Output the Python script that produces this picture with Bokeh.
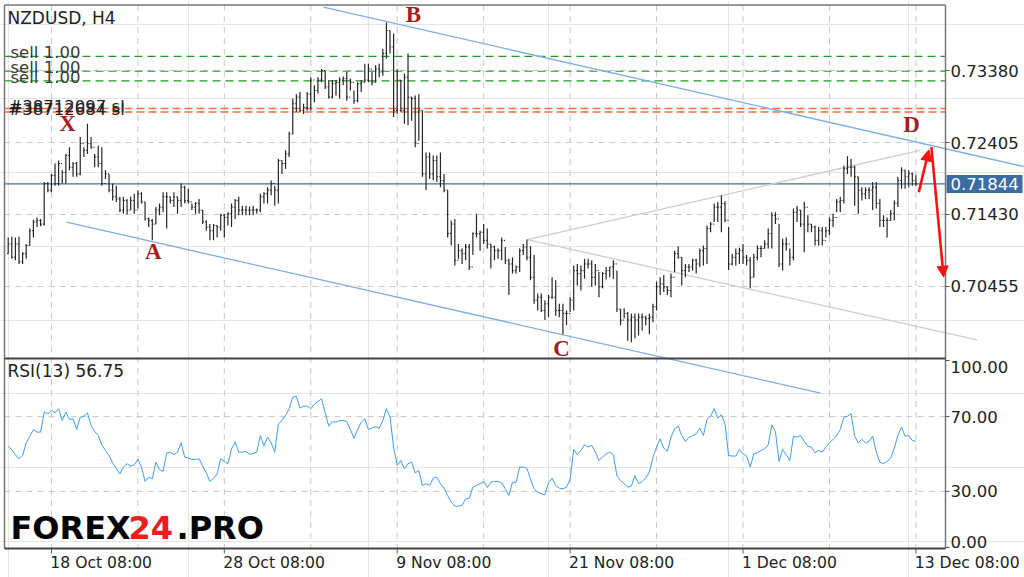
from bokeh.plotting import figure
from bokeh.models import Range1d, Arrow, NormalHead
from bokeh.core.properties import value
from bokeh.embed import file_html
from bokeh.resources import INLINE

# ---------------- data (NZDUSD H4) ----------------
highs = [
    .7112, .7113, .7112, .7113, .7092, .7103, .7124, .7136, .7139, .7137,
    .7187, .7187, .7198, .7212, .7216, .7203, .7225, .7234, .7214, .7214,
    .7248, .7234, .7266, .7248, .7225, .7236, .7234, .7203, .7198, .7185,
    .7182, .7167, .7167, .7164, .7167, .7171, .7176, .7173, .7160, .7139,
    .7137, .7153, .7158, .7173, .7173, .7167, .7173, .7167, .7185, .7182,
    .7178, .7158, .7160, .7164, .7149, .7135, .7130, .7130, .7128, .7144,
    .7144, .7146, .7158, .7164, .7167, .7155, .7155, .7154, .7155, .7151,
    .7171, .7173, .7180, .7189, .7182, .7218, .7216, .7230, .7255, .7300,
    .7306, .7309, .7293, .7309, .7329, .7318, .7329, .7340, .7338, .7325,
    .7325, .7325, .7329, .7330, .7336, .7327, .7311, .7322, .7325, .7347,
    .7347, .7336, .7345, .7347, .7367, .7403, .7392, .7388, .7340, .7325,
    .7334, .7361, .7302, .7304, .7306, .7284, .7227, .7227, .7223, .7223,
    .7227, .7198, .7176, .7135, .7137, .7103, .7097, .7103, .7103, .7119,
    .7144, .7121, .7130, .7124, .7103, .7101, .7097, .7112, .7099, .7083,
    .7085, .7074, .7097, .7103, .7109, .7100, .7088, .7036, .7036, .7027,
    .7034, .7058, .7054, .7022, .7022, .7013, .7031, .7074, .7076, .7074,
    .7083, .7083, .7081, .7076, .7065, .7065, .7072, .7072, .7081, .7067,
    .7015, .7016, .7011, .7009, .7009, .7009, .7009, .7006, .7009, .7022,
    .7052, .7058, .7061, .7045, .7063, .7094, .7100, .7085, .7076, .7076,
    .7083, .7083, .7097, .7101, .7128, .7133, .7158, .7160, .7169, .7161,
    .7126, .7090, .7097, .7098, .7103, .7088, .7085, .7090, .7101, .7101,
    .7108, .7124, .7146, .7146, .7130, .7110, .7112, .7097, .7151, .7155,
    .7149, .7160, .7142, .7130, .7128, .7126, .7126, .7126, .7139, .7144,
    .7164, .7167, .7209, .7222, .7218, .7209, .7194, .7180, .7180, .7180,
    .7187, .7187, .7164, .7142, .7139, .7149, .7162, .7194, .7207, .7203,
    .7203, .7200, .7196,
]
lows = [
    .7090, .7083, .7081, .7076, .7076, .7083, .7101, .7112, .7126, .7127,
    .7128, .7173, .7173, .7182, .7182, .7185, .7185, .7203, .7194, .7194,
    .7196, .7221, .7225, .7232, .7207, .7207, .7182, .7191, .7173, .7162,
    .7160, .7146, .7144, .7143, .7149, .7144, .7151, .7158, .7135, .7126,
    .7108, .7130, .7142, .7146, .7124, .7158, .7153, .7144, .7153, .7158,
    .7158, .7149, .7144, .7144, .7130, .7121, .7108, .7108, .7112, .7121,
    .7112, .7128, .7126, .7137, .7142, .7142, .7142, .7142, .7142, .7144,
    .7146, .7158, .7158, .7169, .7155, .7158, .7198, .7205, .7221, .7252,
    .7282, .7282, .7279, .7284, .7284, .7295, .7307, .7322, .7313, .7300,
    .7300, .7304, .7300, .7318, .7297, .7311, .7293, .7295, .7309, .7322,
    .7322, .7318, .7322, .7329, .7331, .7354, .7361, .7275, .7279, .7282,
    .7266, .7264, .7270, .7234, .7243, .7194, .7176, .7191, .7189, .7187,
    .7180, .7173, .7112, .7101, .7074, .7083, .7076, .7081, .7068, .7088,
    .7112, .7094, .7103, .7097, .7070, .7081, .7083, .7081, .7076, .7034,
    .7063, .7063, .7065, .7088, .7081, .7054, .7022, .7013, .7011, .7000,
    .7004, .7029, .7006, .7004, .6981, .6993, .7011, .7013, .7047, .7040,
    .7056, .7070, .7045, .7047, .7031, .7043, .7055, .7058, .7056, .7011,
    .6993, .7002, .6972, .6970, .6975, .6979, .6986, .6993, .6981, .6997,
    .7013, .7034, .7038, .7034, .7031, .7065, .7083, .7047, .7058, .7065,
    .7067, .7063, .7072, .7074, .7076, .7119, .7133, .7133, .7119, .7133,
    .7068, .7074, .7074, .7076, .7076, .7074, .7043, .7058, .7081, .7085,
    .7097, .7097, .7097, .7130, .7072, .7067, .7094, .7074, .7081, .7133,
    .7126, .7092, .7119, .7119, .7101, .7101, .7101, .7112, .7115, .7126,
    .7146, .7146, .7158, .7198, .7194, .7155, .7144, .7162, .7164, .7164,
    .7149, .7151, .7126, .7126, .7112, .7135, .7135, .7153, .7178, .7178,
    .7180, .7182, .7182,
]
closes = [
    .7103, .7085, .7103, .7079, .7090, .7101, .7121, .7133, .7135, .7130,
    .7185, .7176, .7196, .7185, .7212, .7200, .7223, .7207, .7212, .7198,
    .7239, .7230, .7239, .7234, .7221, .7212, .7185, .7198, .7176, .7167,
    .7164, .7149, .7162, .7149, .7162, .7149, .7171, .7160, .7137, .7135,
    .7130, .7149, .7153, .7167, .7167, .7162, .7167, .7162, .7180, .7162,
    .7160, .7153, .7158, .7149, .7133, .7126, .7121, .7128, .7126, .7142,
    .7139, .7144, .7153, .7162, .7149, .7149, .7149, .7149, .7149, .7149,
    .7167, .7171, .7176, .7185, .7176, .7216, .7212, .7225, .7252, .7293,
    .7302, .7284, .7288, .7306, .7325, .7311, .7325, .7338, .7316, .7302,
    .7320, .7322, .7325, .7327, .7302, .7322, .7297, .7320, .7322, .7325,
    .7340, .7322, .7340, .7336, .7361, .7392, .7370, .7284, .7325, .7284,
    .7329, .7302, .7300, .7239, .7284, .7198, .7221, .7198, .7216, .7194,
    .7189, .7176, .7117, .7130, .7081, .7094, .7090, .7099, .7072, .7117,
    .7117, .7119, .7108, .7103, .7099, .7094, .7094, .7108, .7081, .7076,
    .7067, .7072, .7094, .7099, .7085, .7058, .7027, .7031, .7013, .7022,
    .7031, .7031, .7013, .7013, .7009, .7009, .7027, .7067, .7063, .7067,
    .7076, .7076, .7058, .7067, .7045, .7063, .7067, .7072, .7076, .7015,
    .7000, .7009, .7000, .7004, .7000, .7004, .7004, .7002, .7004, .7018,
    .7045, .7049, .7045, .7040, .7058, .7090, .7085, .7067, .7072, .7072,
    .7081, .7076, .7094, .7097, .7124, .7130, .7153, .7153, .7158, .7135,
    .7076, .7085, .7090, .7094, .7085, .7081, .7058, .7085, .7097, .7097,
    .7103, .7117, .7142, .7137, .7076, .7103, .7103, .7085, .7146, .7149,
    .7130, .7153, .7130, .7126, .7108, .7121, .7108, .7121, .7135, .7139,
    .7160, .7162, .7205, .7207, .7207, .7194, .7176, .7171, .7176, .7176,
    .7180, .7158, .7135, .7135, .7135, .7144, .7158, .7189, .7203, .7194,
    .7198, .7189, .71844,
]
rsi = [
    54.2, 52.2, 49.6, 47.4, 49.2, 56.0, 59.5, 63.1, 61.7, 61.7,
    72.4, 71.5, 73.3, 72.0, 74.2, 67.9, 72.4, 68.5, 68.8, 63.1,
    69.7, 70.2, 72.0, 65.3, 62.0, 59.9, 54.9, 51.9, 49.2, 45.3,
    42.1, 39.4, 43.0, 44.8, 43.5, 44.2, 47.1, 43.0, 35.3, 37.6,
    36.7, 45.6, 41.7, 40.7, 50.6, 51.0, 49.6, 51.0, 56.0, 48.3,
    47.8, 47.1, 47.1, 47.4, 43.5, 39.9, 35.3, 37.1, 39.4, 47.4,
    46.0, 44.8, 52.8, 56.3, 51.0, 51.0, 51.4, 49.9, 50.3, 51.0,
    59.9, 54.2, 59.0, 56.0, 51.0, 66.1, 67.9, 70.6, 74.2, 80.4,
    80.9, 74.5, 75.6, 75.6, 74.2, 76.7, 78.1, 79.5, 72.0, 64.9,
    67.4, 67.0, 67.8, 67.9, 67.4, 63.1, 58.5, 63.1, 67.0, 68.8,
    63.1, 63.8, 64.5, 63.8, 67.9, 74.2, 69.7, 53.7, 43.9, 46.5,
    42.1, 44.8, 45.6, 39.9, 41.2, 33.2, 34.1, 33.2, 37.1, 37.6,
    34.1, 31.7, 27.8, 24.3, 22.1, 22.1, 22.5, 26.0, 26.4, 32.3,
    33.2, 34.1, 35.3, 32.1, 34.9, 35.3, 35.3, 34.6, 31.4, 27.8,
    34.9, 34.9, 43.0, 43.0, 42.4, 36.7, 31.4, 29.6, 28.7, 28.2,
    34.6, 37.1, 33.2, 31.7, 31.4, 32.3, 36.4, 52.4, 49.6, 51.9,
    54.9, 53.7, 54.6, 51.0, 46.5, 48.3, 50.1, 51.0, 49.6, 38.2,
    35.8, 34.1, 32.3, 32.8, 38.5, 34.1, 35.3, 37.1, 40.3, 48.3,
    53.7, 58.1, 53.1, 51.4, 59.0, 63.5, 64.9, 59.9, 56.7, 59.0,
    59.9, 60.8, 63.8, 59.9, 68.5, 70.2, 74.2, 69.2, 71.0, 66.1,
    49.2, 48.9, 48.9, 52.4, 50.1, 48.9, 43.0, 50.1, 50.6, 51.9,
    52.8, 54.9, 65.6, 62.0, 46.0, 52.4, 49.6, 46.5, 59.5, 59.0,
    59.9, 56.7, 54.2, 53.7, 50.6, 51.9, 51.0, 53.7, 56.0, 57.8,
    59.9, 63.1, 69.7, 70.2, 71.5, 59.5, 56.0, 57.8, 56.0, 56.7,
    59.5, 51.0, 45.6, 44.8, 46.0, 47.8, 53.1, 59.9, 64.4, 59.5,
    59.9, 57.2, 56.75,
]
bars = list(range(len(highs)))
opens = [lows[0]] + closes[:-1]          # FX: each H4 bar opens at the previous close

last_price = 0.71844
last_rsi = 56.75
price_ticks = [0.73380, 0.72405, 0.71430, 0.70455]
rsi_ticks = [100, 70, 30, 0]
grid_bars = [12, 36, 60, 84, 108, 132, 156, 180, 204, 228, 252]
time_label_bars = [12, 60, 108, 156, 204, 252]
time_labels = ["18 Oct 08:00", "28 Oct 08:00", "9 Nov 08:00",
               "21 Nov 08:00", "1 Dec 08:00", "13 Dec 08:00"]

sell_levels = [0.7357, 0.7337, 0.7324]
sell_labels = ["sell 1.00", "sell 1.00", "sell 1.00"]
sl_levels = [0.72865, 0.72818]
sl_labels = ["#38712097 sl", "#38712684 sl"]

pattern_labels = ["X", "A", "B", "C", "D"]
pattern_bars = [16.5, 40.3, 112.5, 153.6, 250.8]
pattern_prices = [0.72669, 0.70929, 0.74138, 0.69615, 0.72649]

upper_channel_bars = [87.5, 281.9]
upper_channel_prices = [0.74237, 0.72080]
lower_channel_bars = [16.2, 225.5]
lower_channel_prices = [0.71326, 0.69010]
wedge_bars = [253.1, 144.1, 269.0]
wedge_prices = [0.72297, 0.71091, 0.69733]
arrow_up = [(252.8, 0.71732), (255.6, 0.72306)]
arrow_down = [(256.3, 0.72341), (259.7, 0.70581)]

# ---------------- layout: pixel -> data helpers ----------------
W, H = 1024, 577


def bx(px):          # horizontal pixel position -> bar index
    return (px - 7.7) / 3.602


def py(px):          # vertical pixel position -> price
    return 0.72405 - (px - 142.0) / 7384.6


def ry(px):          # vertical pixel position -> RSI value
    return (547.0 - px) / 1.87


p = figure(width=W, height=H, output_backend="svg", toolbar_location=None,
           x_range=Range1d(bx(0), bx(W)), y_range=Range1d(py(H), py(0)),
           x_axis_location=None, y_axis_location=None, min_border=0)
p.extra_y_ranges = {"rsi": Range1d(ry(H), ry(0))}
p.outline_line_color = None
p.background_fill_color = "white"
p.border_fill_color = "white"

FONT = value("DejaVu Sans")
FS = "16.5px"
AX_X = bx(945)
LEFT_X = bx(4)
TOP_P = py(4.5)
MAIN_BOTTOM_P = py(358)
FRAME_BOTTOM_P = py(548)

# grids
p.segment(x0=grid_bars, y0=[TOP_P] * len(grid_bars), x1=grid_bars,
          y1=[FRAME_BOTTOM_P] * len(grid_bars), line_color="#c8c8c8",
          line_dash="6 5", line_width=1)
p.segment(x0=[LEFT_X] * 4, y0=price_ticks, x1=[AX_X] * 4, y1=price_ticks,
          line_color="#c8c8c8", line_dash="6 5", line_width=1)
p.segment(x0=[LEFT_X] * 2, y0=[70, 30], x1=[AX_X] * 2, y1=[70, 30],
          line_color="#c8c8c8", line_dash="6 5", line_width=1, y_range_name="rsi")

# order levels
p.segment(x0=[LEFT_X] * 3, y0=sell_levels, x1=[AX_X] * 3, y1=sell_levels,
          line_color="#1f9a1f", line_dash="8 5", line_width=1.2)
p.segment(x0=[LEFT_X] * 2, y0=sl_levels, x1=[AX_X] * 2, y1=sl_levels,
          line_color="#ff6e40", line_dash="8 4", line_width=1.6)
p.text(x=[bx(10)] * 3, y=[v + 3.5 / 7384.6 for v in sell_levels], text=sell_labels,
       text_font=FONT, text_font_size=FS, text_color="#3a3a3a",
       text_baseline="alphabetic", text_align="left")
p.text(x=[bx(8)] * 2, y=[v + 2.5 / 7384.6 for v in sl_levels], text=sl_labels,
       text_font=FONT, text_font_size=FS, text_color="#222222",
       text_baseline="alphabetic", text_align="left")

# current price line
p.segment(x0=[LEFT_X], y0=[last_price], x1=[AX_X], y1=[last_price],
          line_color="#3f6fa6", line_width=1.3)

# channel and wedge lines
p.line(upper_channel_bars, upper_channel_prices, line_color="#7eaee6", line_width=1.3)
p.line(lower_channel_bars, lower_channel_prices, line_color="#7eaee6", line_width=1.3)
p.line(wedge_bars, wedge_prices, line_color="#cdcdcd", line_width=1.3)

# OHLC bars
p.segment(x0=bars, y0=lows, x1=bars, y1=highs, line_color="#262626", line_width=1.2)
p.segment(x0=[b - 0.35 for b in bars], y0=opens, x1=bars, y1=opens,
          line_color="#262626", line_width=1)
p.segment(x0=bars, y0=closes, x1=[b + 0.35 for b in bars], y1=closes,
          line_color="#262626", line_width=1)

# RSI
p.line(bars, rsi, line_color="#3d9df3", line_width=1.0, y_range_name="rsi")

# pattern letters
p.text(x=pattern_bars, y=pattern_prices, text=pattern_labels,
       text_font=value("Liberation Serif"), text_font_style="bold",
       text_font_size="23px", text_color="#a51d1d",
       text_align="center", text_baseline="middle")

# forecast arrows
for (xs, ys), (xe, ye) in (arrow_up, arrow_down):
    p.add_layout(Arrow(end=NormalHead(size=11, fill_color="#ff1010", line_color="#ff1010"),
                       x_start=xs, y_start=ys, x_end=xe, y_end=ye,
                       line_color="#ff1010", line_width=2.6))

# frame / panel borders
p.segment(x0=[LEFT_X, AX_X, LEFT_X], y0=[TOP_P, TOP_P, TOP_P],
          x1=[LEFT_X, AX_X, AX_X], y1=[FRAME_BOTTOM_P, FRAME_BOTTOM_P, TOP_P],
          line_color="#777777", line_width=1.5)
p.segment(x0=[LEFT_X, LEFT_X], y0=[MAIN_BOTTOM_P, FRAME_BOTTOM_P],
          x1=[AX_X, AX_X], y1=[MAIN_BOTTOM_P, FRAME_BOTTOM_P],
          line_color="#444444", line_width=1.8)

# price axis
p.segment(x0=[AX_X] * 4, y0=price_ticks, x1=[bx(949)] * 4, y1=price_ticks,
          line_color="#555555", line_width=1)
p.text(x=[bx(950)] * 4, y=price_ticks, text=["%.5f" % v for v in price_ticks],
       text_font=FONT, text_font_size=FS, text_color="#222222",
       text_align="left", text_baseline="middle")
p.rect(x=[bx(984)], y=[last_price], width=76, height=18,
       width_units="screen", height_units="screen",
       fill_color="#3d6ca3", line_color=None)
p.text(x=[bx(950)], y=[last_price], text=["%.5f" % last_price],
       text_font=FONT, text_font_size=FS, text_color="white",
       text_align="left", text_baseline="middle")

# RSI axis
p.segment(x0=[AX_X] * 4, y0=rsi_ticks, x1=[bx(949)] * 4, y1=rsi_ticks,
          line_color="#555555", line_width=1, y_range_name="rsi")
rsi_txt = ["%.2f" % v for v in rsi_ticks]
p.text(x=[bx(950)], y=[rsi_ticks[0]], text=[rsi_txt[0]], text_font=FONT,
       text_font_size=FS, text_color="#222222", text_align="left",
       text_baseline="top", y_range_name="rsi")
p.text(x=[bx(950)] * 2, y=rsi_ticks[1:3], text=rsi_txt[1:3], text_font=FONT,
       text_font_size=FS, text_color="#222222", text_align="left",
       text_baseline="middle", y_range_name="rsi")
p.text(x=[bx(950)], y=[rsi_ticks[3]], text=[rsi_txt[3]], text_font=FONT,
       text_font_size=FS, text_color="#222222", text_align="left",
       text_baseline="bottom", y_range_name="rsi")

# time axis
p.segment(x0=time_label_bars, y0=[FRAME_BOTTOM_P] * 6, x1=time_label_bars,
          y1=[py(553)] * 6, line_color="#555555", line_width=1)
p.text(x=[b - 0.3 for b in time_label_bars], y=[py(562)] * 6, text=time_labels,
       text_font=FONT, text_font_size="15.6px", text_color="#222222",
       text_align="left", text_baseline="middle")

# titles
p.text(x=[bx(7)], y=[py(17)], text=["NZDUSD, H4"], text_font=FONT,
       text_font_size="17px", text_color="#222222", text_align="left",
       text_baseline="middle")
p.text(x=[bx(7)], y=[ry(370)], text=["RSI(13) %.2f" % last_rsi], text_font=FONT,
       text_font_size="17px", text_color="#222222", text_align="left",
       text_baseline="middle", y_range_name="rsi")

# watermark
for rx, txt, col in ((10, "FOREX", "#050505"), (128, "24", "#ee1c1c"), (176, ".PRO", "#050505")):
    p.text(x=[bx(rx)], y=[ry(527)], text=[txt], text_font=FONT,
           text_font_style="bold", text_font_size="32px", text_color=col,
           text_align="left", text_baseline="middle", y_range_name="rsi")

open("out.html", "w").write(file_html(p, INLINE))
